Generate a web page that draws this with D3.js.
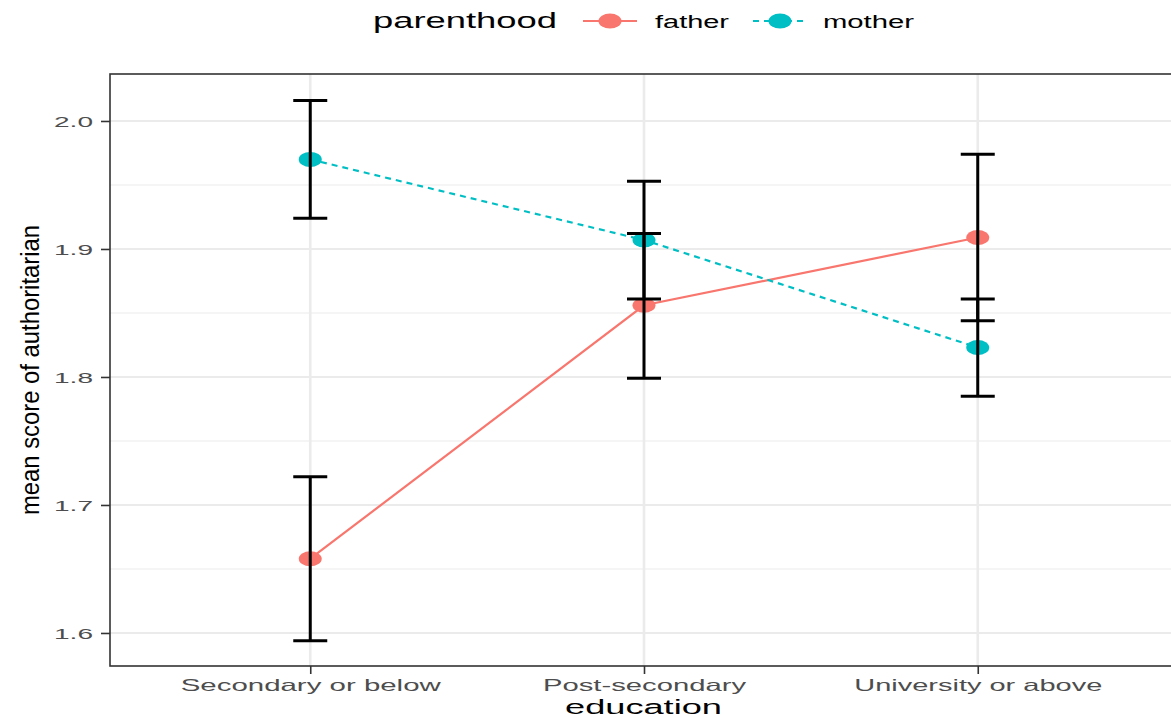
<!DOCTYPE html>
<html>
<head>
<meta charset="utf-8">
<script src="https://cdn.jsdelivr.net/npm/d3@7"></script>
<style>
  body { margin: 0; background: #fff; overflow: hidden; }
  text { font-family: "Liberation Sans", Arial, sans-serif; }
</style>
</head>
<body>
<div id="chart"></div>
<script>
// data
let categories = ["Secondary or below", "Post-secondary", "University or above"];
let fatherMean = [1.658, 1.856, 1.909];
let fatherLower = [1.594, 1.799, 1.844];
let fatherUpper = [1.722, 1.912, 1.974];
let motherMean = [1.970, 1.907, 1.823];
let motherLower = [1.924, 1.861, 1.785];
let motherUpper = [2.016, 1.953, 1.861];
let yTicks = [1.6, 1.7, 1.8, 1.9, 2.0];
let yMinor = [1.65, 1.75, 1.85, 1.95];

let width = 1171, height = 718;
// panel box (right side runs past the window like the original)
let panel = { left: 110, right: 1178, top: 74, bottom: 666 };

let svg = d3.select("#chart").append("svg")
  .attr("width", width)
  .attr("height", height);

//scales
let x_scale = d3.scalePoint().domain(categories).range([panel.left, panel.right]).padding(0.6);
let y_scale = d3.scaleLinear().domain([1.5742, 2.0367]).range([panel.bottom, panel.top]);

let series = [
  { key: "father", color: "#F8766D", dash: null, mean: fatherMean, lo: fatherLower, hi: fatherUpper },
  { key: "mother", color: "#00BFC4", dash: "6,5", mean: motherMean, lo: motherLower, hi: motherUpper }
];

// grid
let grid = svg.append("g");
yMinor.forEach((v) => {
  grid.append("line").attr("x1", panel.left).attr("x2", panel.right)
    .attr("y1", y_scale(v)).attr("y2", y_scale(v))
    .attr("stroke", "#ebebeb").attr("stroke-width", 1.2);
});
yTicks.forEach((v) => {
  grid.append("line").attr("x1", panel.left).attr("x2", panel.right)
    .attr("y1", y_scale(v)).attr("y2", y_scale(v))
    .attr("stroke", "#ebebeb").attr("stroke-width", 2.2);
});
categories.forEach((c) => {
  grid.append("line").attr("x1", x_scale(c)).attr("x2", x_scale(c))
    .attr("y1", panel.top).attr("y2", panel.bottom)
    .attr("stroke", "#ebebeb").attr("stroke-width", 2.6);
});

// lines + points
let line = d3.line().x((d) => x_scale(d.c)).y((d) => y_scale(d.v));
series.forEach((s) => {
  let pts = categories.map((c, i) => ({ c: c, v: s.mean[i] }));
  svg.append("path").datum(pts)
    .attr("d", line)
    .attr("fill", "none")
    .attr("stroke", s.color)
    .attr("stroke-width", 2.2)
    .attr("stroke-dasharray", s.dash);
  svg.append("g").selectAll("ellipse").data(pts).enter()
    .append("ellipse")
    .attr("cx", (d) => x_scale(d.c))
    .attr("cy", (d) => y_scale(d.v))
    .attr("rx", 11.5).attr("ry", 7.5)
    .attr("fill", s.color);
});

// error bars on top
series.forEach((s) => {
  let eb = svg.append("g").attr("stroke", "#000").attr("stroke-width", 3);
  categories.forEach((c, i) => {
    let cx = x_scale(c);
    eb.append("line").attr("x1", cx).attr("x2", cx)
      .attr("y1", y_scale(s.lo[i])).attr("y2", y_scale(s.hi[i]));
    [s.lo[i], s.hi[i]].forEach((v) => {
      eb.append("line").attr("x1", cx - 17).attr("x2", cx + 17)
        .attr("y1", y_scale(v)).attr("y2", y_scale(v));
    });
  });
});

// panel border
svg.append("rect")
  .attr("x", panel.left).attr("y", panel.top)
  .attr("width", panel.right - panel.left).attr("height", panel.bottom - panel.top)
  .attr("fill", "none").attr("stroke", "#333").attr("stroke-width", 1.6);

// axes
let yAxis = d3.axisLeft(y_scale).tickValues(yTicks).tickFormat(d3.format(".1f")).tickSize(9).tickPadding(8);
let gy = svg.append("g").attr("transform", `translate(${panel.left},0)`).call(yAxis);
gy.select(".domain").remove();
gy.selectAll(".tick line").attr("stroke", "#333").attr("stroke-width", 1.6);
gy.selectAll(".tick text")
  .attr("fill", "#4d4d4d").attr("font-size", 15)
  .attr("textLength", 39).attr("lengthAdjust", "spacingAndGlyphs")
  .attr("dy", "0.36em");

let xAxis = d3.axisBottom(x_scale).tickSize(8).tickPadding(5);
let gx = svg.append("g").attr("transform", `translate(0,${panel.bottom})`).call(xAxis);
gx.select(".domain").remove();
gx.selectAll(".tick line").attr("stroke", "#333").attr("stroke-width", 1.6);
let xLabelWidths = [260, 203, 248];
gx.selectAll(".tick text")
  .attr("fill", "#4d4d4d").attr("font-size", 16.5)
  .attr("dy", "0.75em")
  .attr("textLength", (d, i) => xLabelWidths[i]).attr("lengthAdjust", "spacingAndGlyphs");

// axis titles
svg.append("text")
  .attr("x", 643.5).attr("y", 714)
  .attr("text-anchor", "middle").attr("font-size", 20.5).attr("fill", "#000")
  .attr("textLength", 157).attr("lengthAdjust", "spacingAndGlyphs")
  .text("education");

svg.append("text")
  .attr("transform", `translate(39,${(panel.top + panel.bottom) / 2}) rotate(-90)`)
  .attr("text-anchor", "middle").attr("font-size", 25).attr("fill", "#000")
  .attr("font-family", "'Liberation Sans Narrow', 'DejaVu Sans Condensed', sans-serif")
  .attr("textLength", 290).attr("lengthAdjust", "spacingAndGlyphs")
  .text("mean score of  authoritarian");

// legend
let legend = svg.append("g");
legend.append("text").attr("x", 373).attr("y", 28)
  .attr("font-size", 22).attr("fill", "#000")
  .attr("textLength", 184).attr("lengthAdjust", "spacingAndGlyphs")
  .text("parenthood");
let legendPos = [{ k: 583, t: 655, w: 74 }, { k: 753, t: 823, w: 91 }];
series.forEach((s, i) => {
  let p = legendPos[i];
  legend.append("line").attr("x1", p.k).attr("x2", p.k + 54)
    .attr("y1", 21).attr("y2", 21)
    .attr("stroke", s.color).attr("stroke-width", 2.2)
    .attr("stroke-dasharray", s.dash);
  legend.append("ellipse").attr("cx", p.k + 27).attr("cy", 21)
    .attr("rx", 11.5).attr("ry", 7.5).attr("fill", s.color);
  legend.append("text").attr("x", p.t).attr("y", 28)
    .attr("font-size", 18).attr("fill", "#000")
    .attr("textLength", p.w).attr("lengthAdjust", "spacingAndGlyphs")
    .text(s.key);
});
</script>
</body>
</html>
